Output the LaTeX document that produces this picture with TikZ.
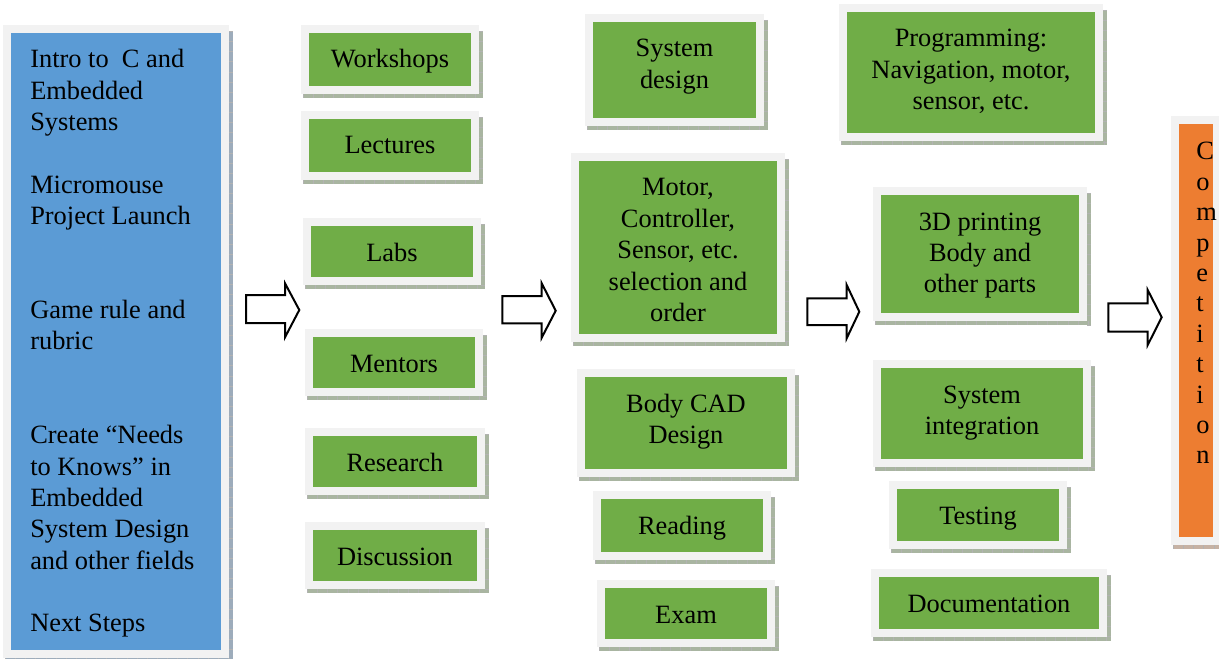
\documentclass[tikz,border=0pt]{standalone}
\usepackage{fontspec}
\setmainfont{Liberation Serif}

\definecolor{boxgreen}{HTML}{70AD47}
\definecolor{boxblue}{HTML}{5B9BD5}
\definecolor{boxorange}{HTML}{ED7D31}
\definecolor{framegrey}{HTML}{F2F2F2}
\colorlet{boxgreenshade}{boxgreen!30!gray!65}
\colorlet{boxblueshade}{boxblue!35!gray!70}
\colorlet{boxorangeshade}{boxorange!30!gray!60}

% #1 name, #2-#5 corners of the coloured face, #6 colour, #7 label
% (labels hang from the top of the face, first baseline 35 units down)
\newcommand{\flowbox}[7]{%
  \fill[#6shade] (#2-6,#3-2) rectangle (#4+12,#5+12);
  \draw[shadetick] (#2-6,#5+10) -- (#4+12,#5+10);
  \draw[shadetick] (#4+10,#3-2) -- (#4+10,#5+12);
  \fill[framegrey] (#2-8,#3-8) rectangle (#4+8,#5+8);
  \fill[#6] (#2,#3) rectangle (#4,#5);
  \node[boxtext] (#1) at ({(#2+#4)/2},#3+35)
    {\begin{tabular}[t]{@{}c@{}}#7\end{tabular}};
}

% block arrow: name, left x, body top/bottom, head x, head top/bottom, tip
\newcommand{\blockarrow}[9]{%
  \coordinate (#1) at (#8,#9);
  \draw[blockarrow] (#2,#3) -- (#5,#3) -- (#5,#6) -- (#1) -- (#5,#7)
    -- (#5,#4) -- (#2,#4) -- cycle;
}

\begin{document}
\begin{tikzpicture}[x=0.75pt,y=-0.75pt,
  boxtext/.style={font=\fontsize{19.8}{23.5}\selectfont, inner sep=0pt, anchor=base},
  listtext/.style={font=\fontsize{19.8}{23.5}\selectfont, inner sep=0pt, anchor=base west},
  shadetick/.style={black!30, line width=3pt, dash pattern=on 0.6pt off 7pt},
  blockarrow/.style={draw=black, fill=white, line width=1.5pt, line join=miter}]

\useasboundingbox (0,0) rectangle (1219,659);

% overview column
\flowbox{overview}{11}{33}{221}{650}{boxblue}{}
\node[listtext] (overviewtext) at (30,67.7) {\begin{tabular}[t]{@{}l@{}}
Intro to\ \ C and\\
Embedded\\
Systems\\
\\
Micromouse\\
Project Launch\\
\\
\\
Game rule and\\
rubric\\
\\
\\
Create “Needs\\
to Knows” in\\
Embedded\\
System Design\\
and other fields\\
\\
Next Steps
\end{tabular}};

% learning activities
\flowbox{workshops}{309}{33}{471}{86}{boxgreen}{Workshops}
\flowbox{lectures}{309}{119}{471}{172}{boxgreen}{Lectures}
\flowbox{labs}{311}{226}{473}{277}{boxgreen}{Labs}
\flowbox{mentors}{313}{337}{475}{388}{boxgreen}{Mentors}
\flowbox{research}{313}{436}{477}{487}{boxgreen}{Research}
\flowbox{discussion}{313}{530}{477}{581}{boxgreen}{Discussion}

% design stage
\flowbox{sysdesign}{593}{22}{756}{118}{boxgreen}{System\\design}
\flowbox{selection}{579}{161}{777}{334}{boxgreen}{Motor,\\Controller,\\Sensor, etc.\\selection and\\order}
\flowbox{cad}{585}{377}{787}{469}{boxgreen}{Body CAD\\Design}
\flowbox{reading}{601}{499}{763}{552}{boxgreen}{Reading}
\flowbox{exam}{605}{588}{767}{639}{boxgreen}{Exam}

% build stage
\flowbox{programming}{847}{12}{1095}{133}{boxgreen}{Programming:\\Navigation, motor,\\sensor, etc.}
\flowbox{printing}{881}{195}{1079}{313}{boxgreen}{3D printing\\Body and\\other parts}
\flowbox{integration}{881}{368}{1083}{459}{boxgreen}{System\\integration}
\flowbox{testing}{897}{489}{1059}{541}{boxgreen}{Testing}
\flowbox{documentation}{879}{577}{1099}{629}{boxgreen}{Documentation}

% final stage
\flowbox{competition}{1179}{124}{1213}{537}{boxorange}{}
\node[font=\fontsize{19.8}{22.8}\selectfont, inner sep=0pt, anchor=base west]
  (competitiontext) at (1196,160) {\begin{tabular}[t]{@{}l@{}}
C\\o\\m\\p\\e\\t\\i\\t\\i\\o\\n
\end{tabular}};

% stage arrows
\blockarrow{arrowA}{246}{295}{323}{285}{283.3}{337.3}{299.3}{310}
\blockarrow{arrowB}{502.3}{296}{323.3}{541.7}{283.3}{337.7}{555.7}{310.7}
\blockarrow{arrowC}{807.3}{298.3}{325}{846.7}{285}{338.3}{859.3}{311.7}
\blockarrow{arrowD}{1108.3}{303.3}{331.7}{1147.7}{290}{345}{1161.7}{317.3}

\end{tikzpicture}
\end{document}
